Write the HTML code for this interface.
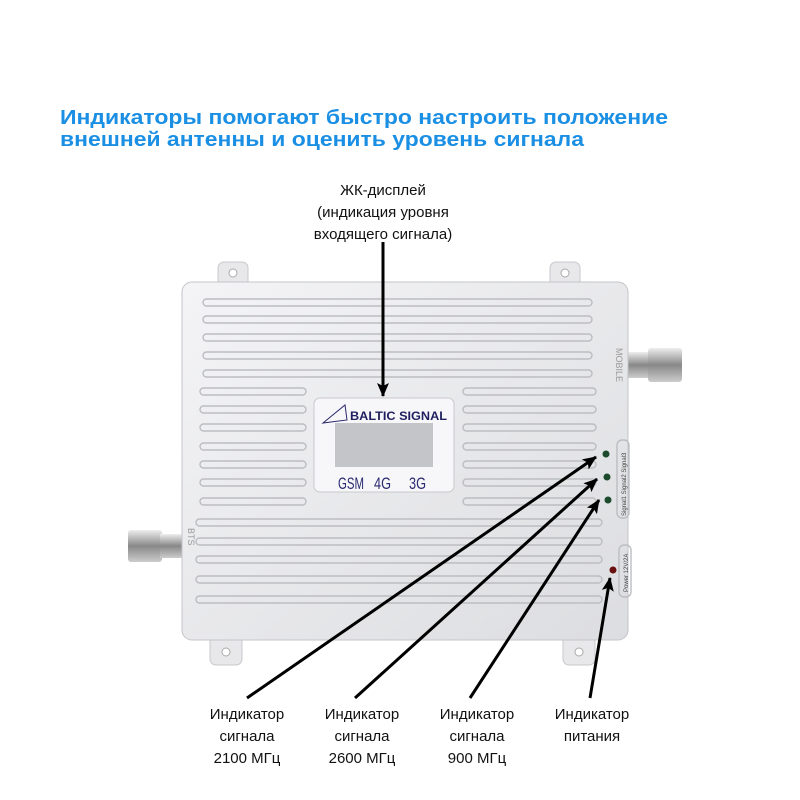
<!DOCTYPE html>
<html><head><meta charset="utf-8"><style>
html,body{margin:0;padding:0;background:#fff;width:800px;height:800px;overflow:hidden}
svg{display:block}
</style></head><body>
<svg width="800" height="800" viewBox="0 0 800 800" xmlns="http://www.w3.org/2000/svg" font-family="Liberation Sans, sans-serif">
<defs>
<linearGradient id="bd" x1="0" y1="0" x2="1" y2="1"><stop offset="0" stop-color="#f4f4f6"/><stop offset="1" stop-color="#dcdde0"/></linearGradient>
<linearGradient id="cn" x1="0" y1="0" x2="0" y2="1"><stop offset="0" stop-color="#eee"/><stop offset="0.5" stop-color="#888"/><stop offset="1" stop-color="#ccc"/></linearGradient>
<marker id="ah" markerWidth="14" markerHeight="12" refX="13" refY="6" orient="auto" markerUnits="userSpaceOnUse"><path d="M0,0 L14,6 L0,12 L3,6 z" fill="#000"/></marker>
</defs>
<text x="60" y="124" font-size="20" font-weight="bold" fill="#1a8fe3" textLength="608" lengthAdjust="spacingAndGlyphs">Индикаторы помогают быстро настроить положение</text>
<text x="60" y="146" font-size="20" font-weight="bold" fill="#1a8fe3" textLength="524" lengthAdjust="spacingAndGlyphs">внешней антенны и оценить уровень сигнала</text>

<g font-size="15" fill="#111" text-anchor="middle">
<text x="383" y="195">ЖК-дисплей</text>
<text x="383" y="217">(индикация уровня</text>
<text x="383" y="239">входящего сигнала)</text>
</g>

<rect x="628" y="352" width="22" height="26" fill="url(#cn)"/>
<rect x="648" y="348" width="34" height="34" rx="3" fill="url(#cn)"/>
<rect x="128" y="530" width="34" height="32" rx="3" fill="url(#cn)"/>
<rect x="160" y="534" width="24" height="24" fill="url(#cn)"/>

<g fill="#e8e8ea" stroke="#c8c8cc">
<rect x="218" y="262" width="30" height="30" rx="6"/>
<rect x="550" y="262" width="30" height="30" rx="6"/>
<rect x="210" y="625" width="32" height="40" rx="6"/>
<rect x="563" y="625" width="32" height="40" rx="6"/>
</g>
<g fill="#fff" stroke="#aaa"><circle cx="233" cy="273" r="4"/><circle cx="565" cy="273" r="4"/><circle cx="226" cy="652" r="4"/><circle cx="579" cy="652" r="4"/></g>

<rect x="182" y="282" width="446" height="358" rx="10" fill="url(#bd)" stroke="#c4c5c9"/>

<g fill="none" stroke="#bcbdc1" stroke-width="1.4">
<rect x="203" y="299" width="389" height="7" rx="3.5"/>
<rect x="203" y="316" width="389" height="7" rx="3.5"/>
<rect x="203" y="334" width="389" height="7" rx="3.5"/>
<rect x="203" y="352" width="389" height="7" rx="3.5"/>
<rect x="203" y="370" width="389" height="7" rx="3.5"/>
<rect x="200" y="388" width="106" height="7" rx="3.5"/>
<rect x="200" y="406" width="106" height="7" rx="3.5"/>
<rect x="200" y="424" width="106" height="7" rx="3.5"/>
<rect x="200" y="443" width="106" height="7" rx="3.5"/>
<rect x="200" y="461" width="106" height="7" rx="3.5"/>
<rect x="200" y="479" width="106" height="7" rx="3.5"/>
<rect x="200" y="498" width="106" height="7" rx="3.5"/>
<rect x="463" y="388" width="133" height="7" rx="3.5"/>
<rect x="463" y="406" width="133" height="7" rx="3.5"/>
<rect x="463" y="424" width="133" height="7" rx="3.5"/>
<rect x="463" y="443" width="133" height="7" rx="3.5"/>
<rect x="463" y="461" width="133" height="7" rx="3.5"/>
<rect x="463" y="479" width="133" height="7" rx="3.5"/>
<rect x="463" y="498" width="133" height="7" rx="3.5"/>
<rect x="196" y="519" width="406" height="7" rx="3.5"/>
<rect x="196" y="538" width="406" height="7" rx="3.5"/>
<rect x="196" y="556" width="406" height="7" rx="3.5"/>
<rect x="196" y="576" width="406" height="7" rx="3.5"/>
<rect x="196" y="596" width="406" height="7" rx="3.5"/>
<rect x="617" y="440" width="12" height="78" rx="5"/>
<rect x="619" y="545" width="12" height="52" rx="5"/>
</g>

<rect x="314" y="398" width="140" height="94" rx="6" fill="#f7f7fa" stroke="#c9c9cd"/>
<path d="M323,423 L345,405 L347,420 Z" fill="none" stroke="#2a2a6a" stroke-width="1"/>
<text x="350" y="420" font-size="12" font-weight="bold" fill="#1f1f5f" textLength="97" lengthAdjust="spacingAndGlyphs">BALTIC SIGNAL</text>
<rect x="335" y="423" width="98" height="44" fill="#c4c5c8"/>
<g font-size="17" fill="#2a2a70">
<text x="338" y="489" textLength="26" lengthAdjust="spacingAndGlyphs">GSM</text>
<text x="374" y="489" textLength="17" lengthAdjust="spacingAndGlyphs">4G</text>
<text x="409" y="489" textLength="17" lengthAdjust="spacingAndGlyphs">3G</text>
</g>

<circle cx="606" cy="454" r="3.5" fill="#1c4a2c"/>
<circle cx="607" cy="477" r="3.5" fill="#1c4a2c"/>
<circle cx="608" cy="500" r="3.5" fill="#1c4a2c"/>
<circle cx="613" cy="570" r="3.5" fill="#6a1010"/>
<g font-size="6" fill="#444">
<text transform="translate(626,516) rotate(-90)">Signal1 Signal2 Signal3</text>
<text transform="translate(628,592) rotate(-90)">Power  12V/2A</text>
<text transform="translate(616,348) rotate(90)" font-size="9" fill="#999">MOBILE</text>
<text transform="translate(188,528) rotate(90)" font-size="9" fill="#999">BTS</text>
</g>

<g stroke="#000" stroke-width="3" marker-end="url(#ah)">
<line x1="383" y1="242" x2="383" y2="396"/>
<line x1="247" y1="698" x2="596" y2="457"/>
<line x1="355" y1="698" x2="597" y2="479"/>
<line x1="470" y1="698" x2="599" y2="500"/>
<line x1="590" y1="698" x2="610" y2="578"/>
</g>

<g font-size="15" fill="#111" text-anchor="middle">
<text x="247" y="719">Индикатор</text><text x="247" y="741">сигнала</text><text x="247" y="763">2100 МГц</text>
<text x="362" y="719">Индикатор</text><text x="362" y="741">сигнала</text><text x="362" y="763">2600 МГц</text>
<text x="477" y="719">Индикатор</text><text x="477" y="741">сигнала</text><text x="477" y="763">900 МГц</text>
<text x="592" y="719">Индикатор</text><text x="592" y="741">питания</text>
</g>
</svg>
</body></html>
